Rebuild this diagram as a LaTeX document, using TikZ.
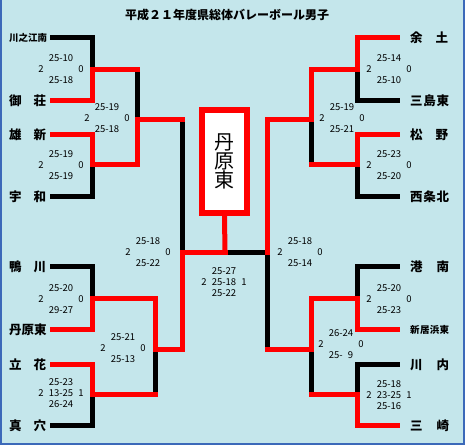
\documentclass[tikz,border=0pt]{standalone}
\usepackage{fontspec}
\newfontfamily\jp{Noto Sans CJK JP}
\definecolor{bg}{RGB}{196,230,235}
\definecolor{frameblue}{RGB}{60,105,185}
\newcommand\scoreset[8]{%
  \node[sc] (#1t) at (#2,#3-11) {#4};
  \node[sc] (#1l) at (#2-20,#3) {#5};
  \if\relax\detokenize{#6}\relax\else\node[sc] (#1m) at (#2,#3) {#6};\fi
  \node[sc] (#1r) at (#2+20,#3) {#7};
  \node[sc] (#1b) at (#2,#3+11) {#8};
}
\begin{document}
\begin{tikzpicture}[x=1pt,y=-1pt,
  winline/.style={draw=red,line width=5pt,line cap=rect},
  loseline/.style={draw=black,line width=5pt,line cap=rect},
  nm/.style={font=\jp\bfseries\fontsize{12.5}{13}\selectfont,inner sep=0pt,anchor=west},
  nms/.style={font=\jp\bfseries\fontsize{9.5}{11}\selectfont,inner sep=0pt,anchor=west},
  sc/.style={font=\jp\fontsize{9.5}{11}\selectfont,inner sep=0pt}]
\useasboundingbox (0,0) rectangle (466,446);
\fill[white] (0,0) rectangle (466,446);
\fill[bg] (0,0) rectangle (464,444);
\draw[frameblue,line width=2pt] (1,0) -- (1,444);
\draw[frameblue,line width=2pt] (464,0) -- (464,444);
\draw[frameblue,line width=2pt] (0,444) -- (465,444);

% title
\node[font=\jp\bfseries\fontsize{12}{14}\selectfont] (title) at (227,15) {平成２１年度県総体バレーボール男子};

% coordinates
\def\xA{52.5}\def\xLa{92.5}\def\xLbt{137.5}\def\xLbb{155.5}\def\xLc{182.5}
\def\xC{225}\def\xRc{267}\def\xRb{311.5}\def\xRa{357.5}\def\xB{397.5}
\def\ra{38}\def\rb{100.5}\def\rc{134.5}\def\rd{197}\def\re{266.5}\def\rf{329.5}\def\rg{364.5}\def\rh{425.5}
\def\ma{69.5}\def\mb{164.5}\def\mc{299}\def\md{394.5}
\def\qa{120}\def\qb{349.5}\def\fy{252.5}

% left entries ends
\coordinate (la1) at (\xA,\ra); \coordinate (la2) at (\xA,\rb);
\coordinate (la3) at (\xA,\rc); \coordinate (la4) at (\xA,\rd);
\coordinate (la5) at (\xA,\re); \coordinate (la6) at (\xA,\rf);
\coordinate (la7) at (\xA,\rg); \coordinate (la8) at (\xA,\rh);
% right entries ends
\coordinate (ra1) at (\xB,\ra); \coordinate (ra2) at (\xB,\rb);
\coordinate (ra3) at (\xB,\rc); \coordinate (ra4) at (\xB,\rd);
\coordinate (ra5) at (\xB,\re); \coordinate (ra6) at (\xB,\rf);
\coordinate (ra7) at (\xB,\rg); \coordinate (ra8) at (\xB,\rh);
% left round 1 junctions
\coordinate (lm1) at (\xLa,\ma); \coordinate (lm2) at (\xLa,\mb);
\coordinate (lm3) at (\xLa,\mc); \coordinate (lm4) at (\xLa,\md);
% left round 2
\coordinate (lq1a) at (\xLbt,\ma); \coordinate (lq1b) at (\xLbt,\mb); \coordinate (lq1) at (\xLbt,\qa);
\coordinate (lq2a) at (\xLbb,\mc); \coordinate (lq2b) at (\xLbb,\md); \coordinate (lq2) at (\xLbb,\qb);
% left semi
\coordinate (ls1) at (\xLc,\qa); \coordinate (ls2) at (\xLc,\qb); \coordinate (ls) at (\xLc,\fy);
% final
\coordinate (fin) at (\xC,\fy);
% right semi
\coordinate (rs1) at (\xRc,\qa); \coordinate (rs2) at (\xRc,\qb); \coordinate (rs) at (\xRc,\fy);
% right round 2
\coordinate (rq1a) at (\xRb,\ma); \coordinate (rq1b) at (\xRb,\mb); \coordinate (rq1) at (\xRb,\qa);
\coordinate (rq2a) at (\xRb,\mc); \coordinate (rq2b) at (\xRb,\md); \coordinate (rq2) at (\xRb,\qb);
% right round 1 junctions
\coordinate (rm1) at (\xRa,\ma); \coordinate (rm2) at (\xRa,\mb);
\coordinate (rm3) at (\xRa,\mc); \coordinate (rm4) at (\xRa,\md);

% losing lines (black)
\draw[loseline] (la1) -- (la1 -| lm1) -- (lm1);
\draw[loseline] (la4) -- (la4 -| lm2) -- (lm2);
\draw[loseline] (la5) -- (la5 -| lm3) -- (lm3);
\draw[loseline] (la8) -- (la8 -| lm4) -- (lm4);
\draw[loseline] (lq1a) -- (lq1);
\draw[loseline] (lq2b) -- (lq2);
\draw[loseline] (ls1) -- (ls);
\draw[loseline] (fin) -- (rs);
\draw[loseline] (rs2) -- (rs);
\draw[loseline] (rq1b) -- (rq1);
\draw[loseline] (rq2b) -- (rq2);
\draw[loseline] (ra2) -- (ra2 -| rm1) -- (rm1);
\draw[loseline] (ra4) -- (ra4 -| rm2) -- (rm2);
\draw[loseline] (ra5) -- (ra5 -| rm3) -- (rm3);
\draw[loseline] (ra7) -- (ra7 -| rm4) -- (rm4);

% winning lines (red)
\draw[winline] (la2) -- (la2 -| lm1) -- (lm1) -- (lq1a);
\draw[winline] (la3) -- (la3 -| lm2) -- (lm2) -- (lq1b) -- (lq1) -- (ls1);
\draw[winline] (la6) -- (la6 -| lm3) -- (lm3) -- (lq2a) -- (lq2) -- (ls2) -- (ls) -- (fin);
\draw[winline] (la7) -- (la7 -| lm4) -- (lm4) -- (lq2b);
\draw[winline] (ra1) -- (ra1 -| rm1) -- (rm1) -- (rq1a) -- (rq1) -- (rs1) -- (rs);
\draw[winline] (ra3) -- (ra3 -| rm2) -- (rm2) -- (rq1b);
\draw[winline] (ra6) -- (ra6 -| rm3) -- (rm3) -- (rq2a) -- (rq2) -- (rs2);
\draw[winline] (ra8) -- (ra8 -| rm4) -- (rm4) -- (rq2b);

% champion box
\node[draw=red,line width=6pt,fill=white,minimum width=45pt,minimum height=103pt,inner sep=0pt,
      font=\jp\fontsize{20}{19}\selectfont,align=center] (champ) at (224.5,161.5) {丹\\原\\東};
\draw[red,line width=5pt] (fin) -- (champ.south);

% names left
\node[nms] (n1) at (9,\ra) {\makebox[37pt][s]{川\hfill 之\hfill 江\hfill 南}};
\node[nm] (n2) at (9,\rb) {\makebox[37pt][s]{御\hfill 荘}};
\node[nm] (n3) at (9,\rc) {\makebox[37pt][s]{雄\hfill 新}};
\node[nm] (n4) at (9,\rd) {\makebox[37pt][s]{宇\hfill 和}};
\node[nm] (n5) at (9,\re) {\makebox[37pt][s]{鴨\hfill 川}};
\node[nm] (n6) at (9,\rf) {\makebox[37pt][s]{丹\hfill 原\hfill 東}};
\node[nm] (n7) at (9,\rg) {\makebox[37pt][s]{立\hfill 花}};
\node[nm] (n8) at (9,\rh) {\makebox[37pt][s]{真\hfill 穴}};
% names right
\node[nm] (m1) at (410,\ra) {\makebox[38pt][s]{余\hfill 土}};
\node[nm] (m2) at (410,\rb) {\makebox[39pt][s]{三\hfill 島\hfill 東}};
\node[nm] (m3) at (410,\rc) {\makebox[38pt][s]{松\hfill 野}};
\node[nm] (m4) at (410,\rd) {\makebox[39pt][s]{西\hfill 条\hfill 北}};
\node[nm] (m5) at (410,\re) {\makebox[39pt][s]{港\hfill 南}};
\node[nms] (m6) at (410,\rf) {\makebox[39pt][s]{新\hfill 居\hfill 浜\hfill 東}};
\node[nm] (m7) at (410,\rg) {\makebox[39pt][s]{川\hfill 内}};
\node[nm] (m8) at (410,\rh) {\makebox[39pt][s]{三\hfill 崎}};

% scores
\scoreset{sa}{61}{69.5}{25-10}{2}{}{0}{25-18}
\scoreset{sb}{61}{165.5}{25-19}{2}{}{0}{25-19}
\scoreset{sc}{61}{299}{25-20}{2}{}{0}{29-27}
\scoreset{sd}{61}{393}{25-23}{2}{13-25}{1}{26-24}
\scoreset{se}{107}{118}{25-19}{2}{}{0}{25-18}
\scoreset{sf}{123}{348}{25-21}{2}{}{0}{25-13}
\scoreset{sg}{148}{252.5}{25-18}{2}{}{0}{25-22}
\scoreset{sh}{224}{282}{25-27}{2}{25-18}{1}{25-22}
\scoreset{si}{300}{252}{25-18}{2}{}{0}{25-14}
\scoreset{sj}{342}{118}{25-19}{2}{}{0}{25-21}
\scoreset{sk}{341}{344.5}{26-24}{2}{}{0}{25-\hphantom{2}9}
\scoreset{sl}{389}{69.5}{25-14}{2}{}{0}{25-10}
\scoreset{sm}{389}{165.5}{25-23}{2}{}{0}{25-20}
\scoreset{sn}{389}{299.5}{25-20}{2}{}{0}{25-23}
\scoreset{so}{389}{395.5}{25-18}{2}{23-25}{1}{25-16}
\end{tikzpicture}
\end{document}
